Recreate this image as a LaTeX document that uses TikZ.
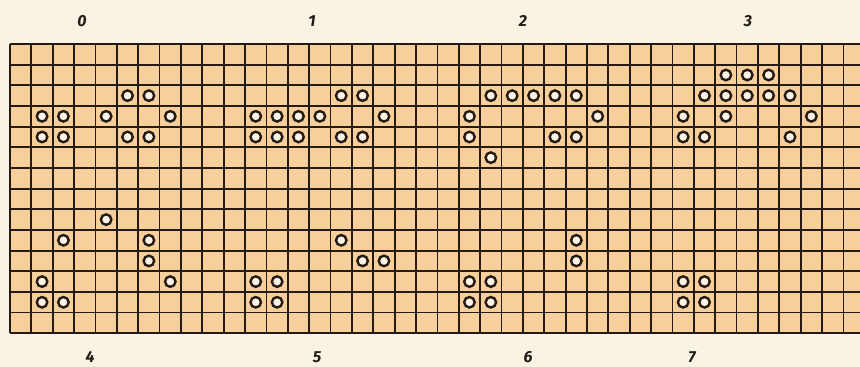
\documentclass[tikz,border=0pt]{standalone}
\usepackage{fontspec}
\setmainfont{Fira Sans}
\definecolor{paper}{RGB}{249,243,228}
\definecolor{cellc}{RGB}{246,207,154}
\definecolor{ink}{RGB}{38,26,20}
\begin{document}
\begin{tikzpicture}[x=1pt,y=-1pt,
  dot/.style={circle, draw=ink, line width=2.4pt, fill=paper, minimum size=10.5pt, inner sep=0pt},
  gridline/.style={draw=ink, line width=1.8pt},
  borderline/.style={draw=ink, line width=2.2pt},
  lbl/.style={font=\fontsize{16}{16}\selectfont\bfseries\itshape, text=ink, inner sep=0pt}]
\useasboundingbox[fill=paper] (0,0) rectangle (860,367);
% grid background
\fill[cellc] (10,44) rectangle (860,333.3);
% vertical lines
\foreach \k in {0,...,39}
  \draw[gridline] ({10+21.37*\k},44) -- ({10+21.37*\k},333.3);
% horizontal lines
\foreach \j in {1,...,13}
  \draw[gridline] (10,{44+20.66*\j}) -- (860,{44+20.66*\j});
\draw[borderline] (10,44) -- (860,44);
\draw[borderline] (10,333.3) -- (860,333.3);
\draw[borderline] (10,44) -- (10,333.3);
% circles
\foreach \r/\c in {1/33,1/34,1/35,
  2/5,2/6,2/15,2/16,2/22,2/23,2/24,2/25,2/26,2/32,2/33,2/34,2/35,2/36,
  3/1,3/2,3/4,3/7,3/11,3/12,3/13,3/14,3/17,3/21,3/27,3/31,3/33,3/37,
  4/1,4/2,4/5,4/6,4/11,4/12,4/13,4/15,4/16,4/21,4/25,4/26,4/31,4/32,4/36,
  5/22,
  8/4,
  9/2,9/6,9/15,9/26,
  10/6,10/16,10/17,10/26,
  11/1,11/7,11/11,11/12,11/21,11/22,11/31,11/32,
  12/1,12/2,12/11,12/12,12/21,12/22,12/31,12/32}
  \node[dot] (p\r-\c) at ({10+21.37*(\c+0.5)},{44+20.66*(\r+0.5)}) {};
% labels
\node[lbl] (l0) at (82,21) {0};
\node[lbl] (l1) at (312,21) {1};
\node[lbl] (l2) at (523,21) {2};
\node[lbl] (l3) at (748,21) {3};
\node[lbl] (l4) at (90,357) {4};
\node[lbl] (l5) at (317,357) {5};
\node[lbl] (l6) at (528,357) {6};
\node[lbl] (l7) at (692,357) {7};
\end{tikzpicture}
\end{document}
